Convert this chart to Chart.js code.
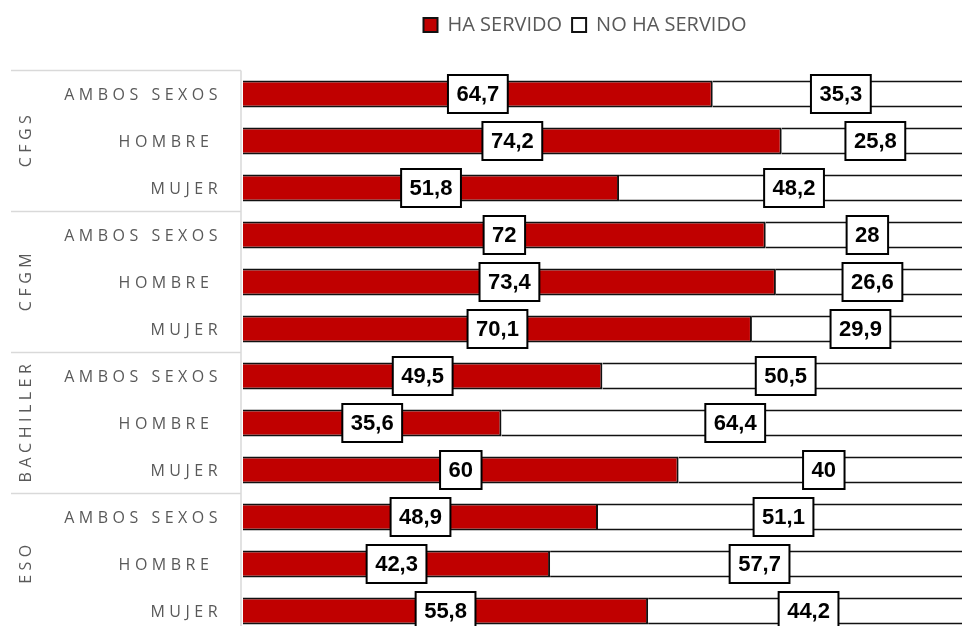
<!DOCTYPE html>
<html><head><meta charset="utf-8">
<script src="https://cdn.jsdelivr.net/npm/chart.js@4/dist/chart.umd.min.js"></script>
<style>html,body{margin:0;padding:0;overflow:hidden;background:#fff;width:962px;height:626px}canvas{display:block}</style>
</head><body>
<canvas id="c" width="980" height="640" style="width:980px;height:640px"></canvas>
<script>
const groups = ['CFGS', 'CFGM', 'BACHILLER', 'ESO'];
const subLabels = ['AMBOS SEXOS', 'HOMBRE ', 'MUJER'];
const seriesNames = ['HA SERVIDO', 'NO HA SERVIDO'];
const haServido   = [64.7, 74.2, 51.8, 72, 73.4, 70.1, 49.5, 35.6, 60, 48.9, 42.3, 55.8];
const noHaServido = [35.3, 25.8, 48.2, 28, 26.6, 29.9, 50.5, 64.4, 40, 51.1, 57.7, 44.2];
const categories = groups.flatMap(g => subLabels.map(s => s));
const categoryGroup = groups.flatMap(g => subLabels.map(() => g));

const fmt = v => String(v).replace('.', ',');
const GRAY = '#595959';

const decor = {
  id: 'decor',
  beforeDatasetsDraw(chart) {
    const ctx = chart.ctx, ys = chart.scales.y, area = chart.chartArea;
    const step = ys.getPixelForValue(1) - ys.getPixelForValue(0);
    ctx.save();
    ctx.strokeStyle = '#d9d9d9';
    ctx.lineWidth = 1.5;
    ctx.beginPath();
    for (let g = 0; g <= groups.length; g++) {
      const y = ys.getPixelForValue(g * subLabels.length) - step / 2;
      ctx.moveTo(11, y); ctx.lineTo(241, y);
    }
    ctx.moveTo(241, area.top); ctx.lineTo(241, area.bottom + 10);
    ctx.stroke();
    ctx.restore();
  },
  afterDatasetsDraw(chart) {
    const ctx = chart.ctx;
    ctx.save();
    ctx.font = 'bold 22px "Liberation Sans", Arial, sans-serif';
    ctx.textAlign = 'center';
    ctx.textBaseline = 'middle';
    chart.data.datasets.forEach((ds, di) => {
      const meta = chart.getDatasetMeta(di);
      meta.data.forEach((bar, i) => {
        const p = bar.getProps(['x', 'y', 'base'], true);
        const cx = (p.x + p.base) / 2, cy = p.y;
        const t = fmt(ds.data[i]);
        const w = ctx.measureText(t).width + 17, h = 38;
        ctx.fillStyle = '#fff';
        ctx.strokeStyle = '#000';
        ctx.lineWidth = 2;
        ctx.fillRect(cx - w / 2, cy - h / 2, w, h);
        ctx.strokeRect(cx - w / 2, cy - h / 2, w, h);
        ctx.fillStyle = '#000';
        ctx.fillText(t, cx, cy + 1);
      });
    });
    ctx.restore();

    // axis labels
    const ys = chart.scales.y;
    ctx.save();
    ctx.fillStyle = GRAY;
    ctx.font = '16px "Open Sans", sans-serif';
    ctx.textBaseline = 'middle';
    try { ctx.letterSpacing = '4.5px'; } catch (e) {}
    ctx.textAlign = 'right';
    categories.forEach((c, i) => {
      ctx.fillText(c, 222, ys.getPixelForValue(i) + 1);
    });
    ctx.textAlign = 'center';
    groups.forEach((g, gi) => {
      const y0 = ys.getPixelForValue(gi * subLabels.length);
      const y1 = ys.getPixelForValue(gi * subLabels.length + subLabels.length - 1);
      ctx.save();
      ctx.translate(26, (y0 + y1) / 2);
      ctx.rotate(-Math.PI / 2);
      ctx.fillText(g, 2, 0);
      ctx.restore();
    });
    ctx.restore();
  }
};

new Chart(document.getElementById('c'), {
  type: 'bar',
  data: {
    labels: categories,
    datasets: [
      { label: seriesNames[0], data: haServido, backgroundColor: '#C00000', borderColor: '#111', borderWidth: 2 },
      { label: seriesNames[1], data: noHaServido, backgroundColor: '#FFFFFF', borderColor: '#111', borderWidth: 2 }
    ]
  },
  options: {
    indexAxis: 'y',
    responsive: false,
    animation: false,
    devicePixelRatio: 1,
    layout: { padding: { left: 201, right: 11, top: 5, bottom: 5.5 } },
    datasets: { bar: { categoryPercentage: 0.575, barPercentage: 1 } },
    scales: {
      x: {
        position: 'top', stacked: true, min: 0, max: 100,
        grid: { display: false }, border: { display: false },
        ticks: { display: false },
        afterFit(s) { s.height = 25.5; }
      },
      y: {
        stacked: true,
        grid: { display: false }, border: { display: false },
        ticks: { display: false },
        afterFit(s) { s.width = 42; }
      }
    },
    plugins: {
      legend: {
        position: 'top',
        labels: {
          boxWidth: 14, boxHeight: 14, padding: 10, color: GRAY,
          font: { family: '"Open Sans", sans-serif', size: 20 }
        }
      },
      tooltip: { enabled: false }
    }
  },
  plugins: [decor]
});
</script>
</body></html>
